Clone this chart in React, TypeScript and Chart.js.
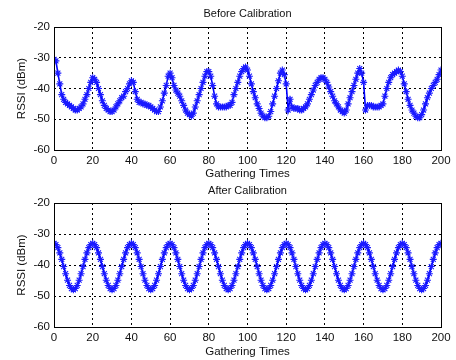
import React, { useEffect, useRef } from "react";
import { Chart, registerables } from "chart.js";

Chart.register(...registerables);

const xTicks = [0, 20, 40, 60, 80, 100, 120, 140, 160, 180, 200];
const yTicks = [-60, -50, -40, -30, -20];

// RSSI before calibration, one value per gathering time 0..200
const rssiBefore = [
  -30.5, -31, -35, -38.5, -42, -43.5, -44.5, -45, -45.5, -46,
  -46.5, -47, -47, -46.5, -46, -45, -43.5, -42, -40, -38,
  -36.5, -37, -38, -40, -42, -44, -45.5, -46.5, -47, -47.5,
  -47.5, -47, -46, -45, -44, -43, -42.5, -41, -40, -38.5,
  -37.5, -38, -41, -43.5, -44.5, -44.5, -45, -45, -45.5, -45.5,
  -46, -46.5, -47, -47.5, -47.5, -46, -44, -41.5, -39, -36,
  -35, -36.5, -39, -40.5, -41.5, -42.5, -44, -45.5, -47, -48,
  -48.5, -49, -48, -46, -44, -42, -40, -38, -36, -34.5,
  -34.5, -36, -39, -42.5, -45, -46, -46, -46, -46, -46,
  -45.5, -45.5, -44.5, -42, -40, -38, -36, -34.5, -33.5, -33,
  -34, -36, -38.5, -41, -43, -45, -46.5, -48, -49, -49.5,
  -49.5, -49, -47.5, -45, -42.5, -40, -37.5, -35, -34, -35.5,
  -38.5, -47, -43.5, -46, -46.5, -46.5, -46.5, -47, -47, -46.5,
  -46, -45, -43.5, -42, -40.5, -39, -38, -37, -36.5, -36.5,
  -37, -38, -39.5, -41, -42.5, -44, -45, -46, -47, -47.5,
  -48, -47, -45, -43, -41, -39, -37, -35, -33.5, -35,
  -38, -47, -45.5, -45.5, -45.5, -46, -46, -46, -46, -45.5,
  -45, -42.5, -40, -38, -36.5, -35.5, -35, -34.5, -34, -34.5,
  -36, -38.5, -41, -43.5, -45.5, -47, -48, -49, -49.5, -49.5,
  -48.5, -47, -45, -43, -41.5, -40, -39, -38, -37, -35.5,
  -34,
];

// RSSI after calibration, one value per gathering time 0..200
const rssiAfter = [
  -33, -33.4, -34.4, -36.1, -38.2, -40.5, -42.8, -44.9, -46.6, -47.6, -48, -47.6, -46.6, -44.9, -42.8, -40.5, -38.2, -36.1, -34.4, -33.4,
  -33, -33.4, -34.4, -36.1, -38.2, -40.5, -42.8, -44.9, -46.6, -47.6, -48, -47.6, -46.6, -44.9, -42.8, -40.5, -38.2, -36.1, -34.4, -33.4,
  -33, -33.4, -34.4, -36.1, -38.2, -40.5, -42.8, -44.9, -46.6, -47.6, -48, -47.6, -46.6, -44.9, -42.8, -40.5, -38.2, -36.1, -34.4, -33.4,
  -33, -33.4, -34.4, -36.1, -38.2, -40.5, -42.8, -44.9, -46.6, -47.6, -48, -47.6, -46.6, -44.9, -42.8, -40.5, -38.2, -36.1, -34.4, -33.4,
  -33, -33.4, -34.4, -36.1, -38.2, -40.5, -42.8, -44.9, -46.6, -47.6, -48, -47.6, -46.6, -44.9, -42.8, -40.5, -38.2, -36.1, -34.4, -33.4,
  -33, -33.4, -34.4, -36.1, -38.2, -40.5, -42.8, -44.9, -46.6, -47.6, -48, -47.6, -46.6, -44.9, -42.8, -40.5, -38.2, -36.1, -34.4, -33.4,
  -33, -33.4, -34.4, -36.1, -38.2, -40.5, -42.8, -44.9, -46.6, -47.6, -48, -47.6, -46.6, -44.9, -42.8, -40.5, -38.2, -36.1, -34.4, -33.4,
  -33, -33.4, -34.4, -36.1, -38.2, -40.5, -42.8, -44.9, -46.6, -47.6, -48, -47.6, -46.6, -44.9, -42.8, -40.5, -38.2, -36.1, -34.4, -33.4,
  -33, -33.4, -34.4, -36.1, -38.2, -40.5, -42.8, -44.9, -46.6, -47.6, -48, -47.6, -46.6, -44.9, -42.8, -40.5, -38.2, -36.1, -34.4, -33.4,
  -33, -33.4, -34.4, -36.1, -38.2, -40.5, -42.8, -44.9, -46.6, -47.6, -48, -47.6, -46.6, -44.9, -42.8, -40.5, -38.2, -36.1, -34.4, -33.4,
  -33,
];

const FONT = "'Liberation Sans', Arial, Helvetica, sans-serif";
const W = 456;
const H = 180;

const boxPlugin = {
  id: "boxBorder",
  afterDatasetsDraw(chart: any) {
    const { ctx, chartArea } = chart;
    ctx.save();
    ctx.strokeStyle = "#000";
    ctx.lineWidth = 1;
    ctx.setLineDash([]);
    const l = Math.round(chartArea.left) + 0.5;
    const t = Math.round(chartArea.top) + 0.5;
    const r = Math.round(chartArea.right) + 0.5;
    const b = Math.round(chartArea.bottom) + 0.5;
    ctx.strokeRect(l, t, r - l, b - t);
    ctx.restore();
  },
};

type PanelProps = {
  title: string;
  values: number[];
  titlePad: { top: number; bottom: number };
  xAxisHeight: number;
  xTitlePadBottom: number;
};

function Panel({ title, values, titlePad, xAxisHeight, xTitlePadBottom }: PanelProps) {
  const ref = useRef<HTMLCanvasElement | null>(null);
  useEffect(() => {
    if (!ref.current) return;
    const data = values.map((v, i) => ({ x: i, y: v }));
    const chart = new Chart(ref.current, {
      type: "line",
      data: {
        datasets: [
          {
            data,
            borderColor: "#0000ff",
            backgroundColor: "#0000ff",
            borderWidth: 1.6,
            pointStyle: "star",
            pointRadius: 3.5,
            pointBorderWidth: 1.1,
            pointBorderColor: "#1a1aff",
            tension: 0,
          },
        ],
      },
      options: {
        animation: false,
        responsive: false,
        devicePixelRatio: 1,
        layout: { padding: { left: 0, right: 15, top: 0, bottom: 0 } },
        plugins: {
          legend: { display: false },
          tooltip: { enabled: false },
          title: {
            display: true,
            text: title,
            fullSize: false,
            color: "#111",
            font: { family: FONT, size: 11, weight: "normal", lineHeight: 1.2 },
            padding: titlePad,
          },
        },
        scales: {
          x: {
            type: "linear",
            min: 0,
            max: 200,
            afterBuildTicks: (s: any) => {
              s.ticks = xTicks.map((v) => ({ value: v }));
            },
            afterFit: (s: any) => {
              s.height = xAxisHeight;
            },
            ticks: {
              color: "#111",
              font: { family: FONT, size: 11.5 },
              padding: 4,
              maxRotation: 0,
              autoSkip: false,
            },
            grid: { color: "#000", lineWidth: 1, drawTicks: false },
            border: { display: false, dash: [2, 3] },
            title: {
              display: true,
              text: "Gathering Times",
              color: "#111",
              font: { family: FONT, size: 11.5, lineHeight: 1 },
              padding: { top: 0, bottom: xTitlePadBottom },
            },
          },
          y: {
            type: "linear",
            min: -60,
            max: -20,
            afterBuildTicks: (s: any) => {
              s.ticks = yTicks.map((v) => ({ value: v }));
            },
            afterFit: (s: any) => {
              s.width = 54;
            },
            ticks: {
              color: "#111",
              font: { family: FONT, size: 11.5 },
              padding: 4,
              autoSkip: false,
            },
            grid: { color: "#000", lineWidth: 1, drawTicks: false },
            border: { display: false, dash: [2, 3] },
            title: {
              display: true,
              text: "RSSI (dBm)",
              color: "#111",
              font: { family: FONT, size: 11.5, lineHeight: 1.2 },
              padding: { top: 15, bottom: 0 },
            },
          },
        },
      },
      plugins: [boxPlugin],
    } as any);
    return () => chart.destroy();
  }, [title, values]);
  return (
    <div style={{ width: W, height: H, position: "relative" }}>
      <canvas ref={ref} width={W} height={H} style={{ display: "block", width: W, height: H }} />
    </div>
  );
}

export default function App() {
  return (
    <div style={{ position: "absolute", left: 0, top: 0, width: W, height: 2 * H, background: "#fff" }}>
      <Panel
        title="Before Calibration"
        values={rssiBefore}
        titlePad={{ top: 7, bottom: 6.8 }}
        xAxisHeight={30}
        xTitlePadBottom={0}
      />
      <Panel
        title="After Calibration"
        values={rssiAfter}
        titlePad={{ top: 4, bottom: 5.8 }}
        xAxisHeight={33}
        xTitlePadBottom={2}
      />
    </div>
  );
}
